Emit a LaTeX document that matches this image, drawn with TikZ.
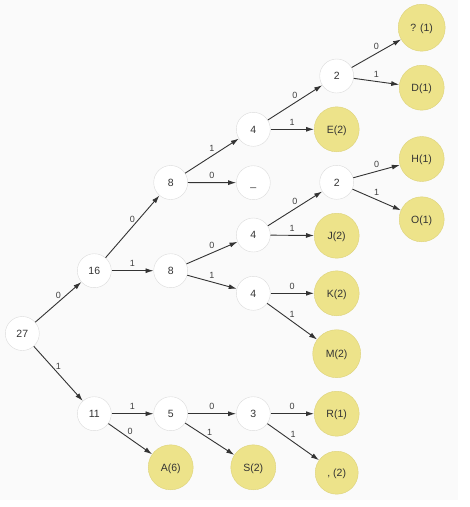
\documentclass[tikz,border=0pt]{standalone}
\usepackage{fontspec}
\setmainfont{Liberation Sans}
\usetikzlibrary{arrows.meta}
\definecolor{leafyellow}{RGB}{237,227,138}
\definecolor{leafborder}{RGB}{221,210,122}
\definecolor{paper}{RGB}{250,250,250}

\begin{document}
\begin{tikzpicture}
[x=1pt,y=-1pt,
 sumnode/.style={circle,draw=black!14,fill=white,minimum size=34pt,inner sep=0pt,
   font=\fontsize{10.5}{12}\selectfont,text=black!80,text height=7.5pt,text depth=0pt},
 leafnode/.style={sumnode,fill=leafyellow,draw=leafborder,minimum size=45pt},
 link/.style={-{Latex[length=8pt,width=5pt]},draw=black!80,line width=0.9pt},
 bitlabel/.style={midway,above,inner sep=1pt,yshift=2.5pt,
   font=\fontsize{9}{10}\selectfont,text=black!75}]
\useasboundingbox (0,0) rectangle (470,507);
\fill[paper] (0,0) rectangle (458,500);
% inner nodes
\node[sumnode] (n27) at (22.3,333.5) {27};
\node[sumnode] (n16) at (94.3,270.7) {16};
\node[sumnode] (n11) at (94.3,413.7) {11};
\node[sumnode] (n8a) at (170.7,182.5) {8};
\node[sumnode] (n8b) at (170.7,270.7) {8};
\node[sumnode] (n5) at (170.7,413.7) {5};
\node[sumnode] (n4a) at (253.3,129.3) {4};
\node[sumnode] (space) at (253.3,182.7) {\_};
\node[sumnode] (n4b) at (253.3,235) {4};
\node[sumnode] (n4c) at (253.3,293.3) {4};
\node[sumnode] (n3) at (253.3,413.7) {3};
\node[sumnode] (n2a) at (336.7,76) {2};
\node[sumnode] (n2b) at (336.7,182.3) {2};
% leaves
\node[leafnode] (A) at (170.7,467.3) {A(6)};
\node[leafnode] (S) at (253.3,467.3) {S(2)};
\node[leafnode] (E) at (336.7,129.3) {E(2)};
\node[leafnode] (J) at (336.7,235.7) {J(2)};
\node[leafnode] (K) at (336.7,293.3) {K(2)};
\node[leafnode,minimum size=48pt] (M) at (336.7,353.7) {M(2)};
\node[leafnode] (R) at (336.7,413.7) {R(1)};
\node[leafnode,minimum size=43pt] (comma) at (336.7,472.7) {, (2)};
\node[leafnode,minimum size=47pt] (Q) at (421.7,27.7) {? (1)};
\node[leafnode] (D) at (421.7,87.7) {D(1)};
\node[leafnode] (H) at (421.7,159) {H(1)};
\node[leafnode] (O) at (421.7,219.3) {O(1)};
% edges
\draw[link] (n27) -- node[bitlabel] {0} (n16);
\draw[link] (n27) -- node[bitlabel] {1} (n11);
\draw[link] (n16) -- node[bitlabel] {0} (n8a);
\draw[link] (n16) -- node[bitlabel] {1} (n8b);
\draw[link] (n8a) -- node[bitlabel] {1} (n4a);
\draw[link] (n8a) -- node[bitlabel] {0} (space);
\draw[link] (n4a) -- node[bitlabel] {0} (n2a);
\draw[link] (n4a) -- node[bitlabel] {1} (E);
\draw[link] (n2a) -- node[bitlabel] {0} (Q);
\draw[link] (n2a) -- node[bitlabel] {1} (D);
\draw[link] (n8b) -- node[bitlabel] {0} (n4b);
\draw[link] (n8b) -- node[bitlabel] {1} (n4c);
\draw[link] (n4b) -- node[bitlabel] {0} (n2b);
\draw[link] (n4b) -- node[bitlabel] {1} (J);
\draw[link] (n2b) -- node[bitlabel] {0} (H);
\draw[link] (n2b) -- node[bitlabel] {1} (O);
\draw[link] (n4c) -- node[bitlabel] {0} (K);
\draw[link] (n4c) -- node[bitlabel] {1} (M);
\draw[link] (n11) -- node[bitlabel] {1} (n5);
\draw[link] (n11) -- node[bitlabel] {0} (A);
\draw[link] (n5) -- node[bitlabel] {0} (n3);
\draw[link] (n5) -- node[bitlabel] {1} (S);
\draw[link] (n3) -- node[bitlabel] {0} (R);
\draw[link] (n3) -- node[bitlabel] {1} (comma);
\end{tikzpicture}
\end{document}
